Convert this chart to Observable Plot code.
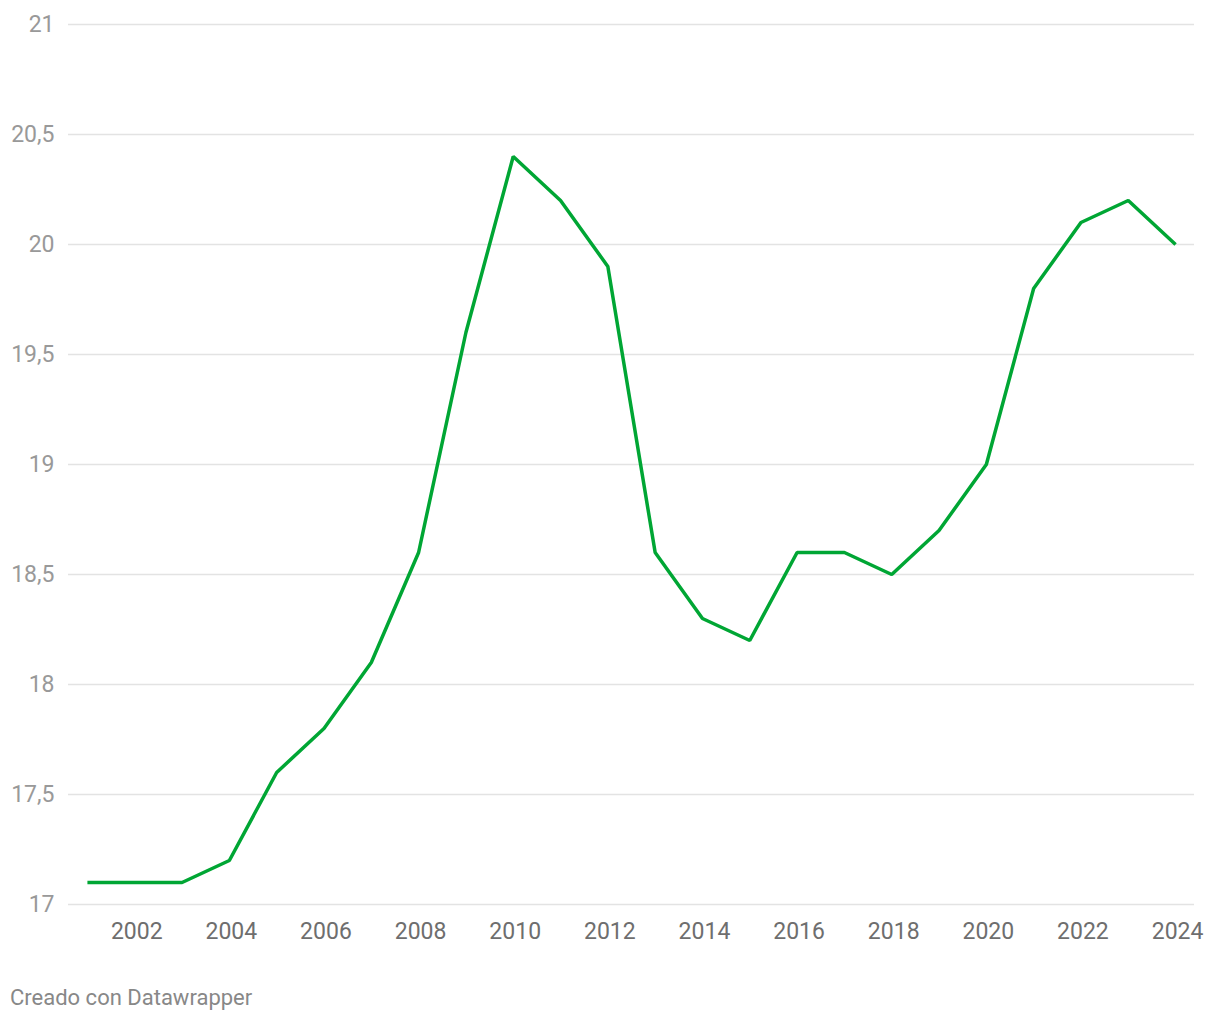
<!DOCTYPE html>
<html>
<head>
<meta charset="utf-8">
<script src="https://cdn.jsdelivr.net/npm/d3@7"></script>
<script src="https://cdn.jsdelivr.net/npm/@observablehq/plot@0.6"></script>
<style>
  html, body { margin: 0; padding: 0; background: #fff; }
  body { font-family: Roboto, "Noto Sans", sans-serif; width: 1220px; }
  #caption { font-size: 22px; color: #888; margin: 25px 0 0 10px; line-height: 26px; }
</style>
</head>
<body>
<div id="chart"></div>
<div id="caption">Creado con Datawrapper</div>
<script>
const years = [2001,2002,2003,2004,2005,2006,2007,2008,2009,2010,2011,2012,2013,2014,2015,2016,2017,2018,2019,2020,2021,2022,2023,2024];
const values = [17.1,17.1,17.1,17.2,17.6,17.8,18.1,18.6,19.6,20.4,20.2,19.9,18.6,18.3,18.2,18.6,18.6,18.5,18.7,19.0,19.8,20.1,20.2,20.0];
const yTicks = [17,17.5,18,18.5,19,19.5,20,20.5,21];
const xTicks = [2002,2004,2006,2008,2010,2012,2014,2016,2018,2020,2022,2024];

const data = years.map((y, i) => ({year: y, value: values[i]}));
const fmtY = v => String(v).replace(".", ",");

const chart = Plot.plot({
  width: 1220,
  height: 960,
  marginTop: 24,
  marginBottom: 56,
  marginLeft: 68,
  marginRight: 26,
  style: {fontFamily: "Roboto, sans-serif", fontSize: "23px", background: "#fff"},
  x: {domain: [2000.6, 2024.4], ticks: xTicks, tickFormat: d => String(d), label: null},
  y: {domain: [17, 21], ticks: yTicks, tickFormat: fmtY, label: null},
  marks: [
    Plot.ruleY(yTicks, {stroke: "#e3e3e3", strokeWidth: 1.5}),
    Plot.axisY({ticks: yTicks, tickFormat: fmtY, tickSize: 0, tickPadding: 14, fill: "#999", label: null, fontSize: 23}),
    Plot.axisX({ticks: xTicks, tickFormat: d => String(d), tickSize: 0, tickPadding: 18, dx: 2, fill: "#6e6e6e", label: null, fontSize: 23}),
    Plot.line(data, {x: "year", y: "value", stroke: "#00a634", strokeWidth: 3.5, strokeLinejoin: "miter", strokeLinecap: "butt"})
  ]
});
document.getElementById("chart").appendChild(chart);
</script>
</body>
</html>
